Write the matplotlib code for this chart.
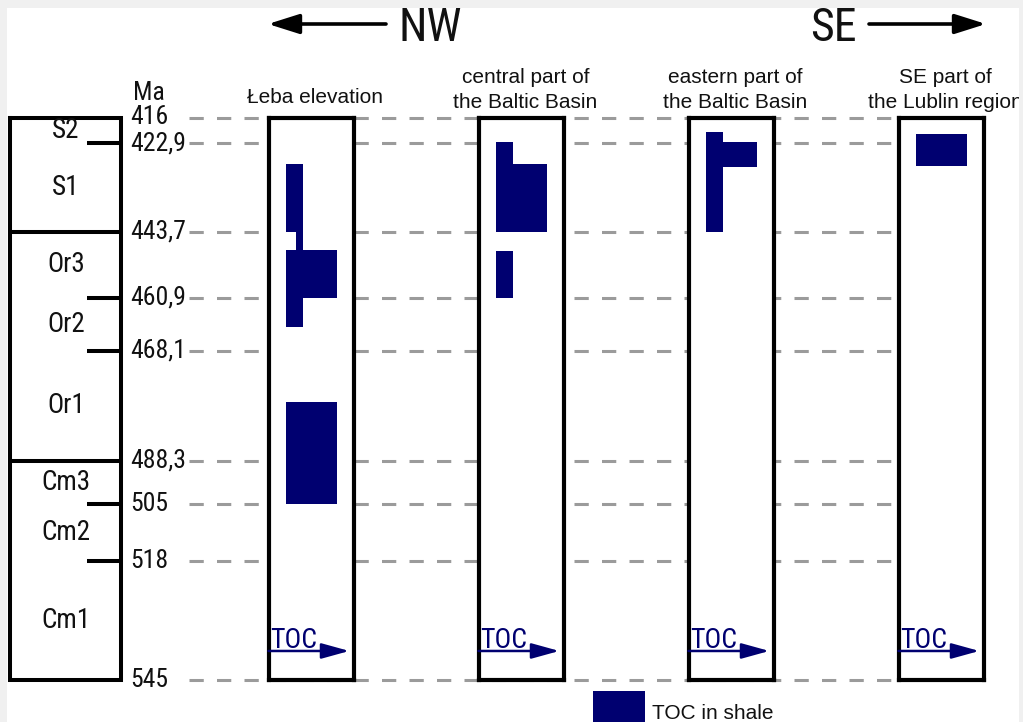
#!/usr/bin/env python3
"""TOC-rich shale intervals in Lower Palaeozoic sections, NW to SE."""

import numpy as np
import matplotlib
matplotlib.use("Agg")
import matplotlib.pyplot as plt
from matplotlib import font_manager
from matplotlib.patches import Rectangle

# chronostratigraphic boundaries (Ma) and stage names between them
BOUNDARY_AGES = [416, 422.9, 443.7, 460.9, 468.1, 488.3, 505, 518, 545]
BOUNDARY_LABELS = ["416", "422,9", "443,7", "460,9", "468,1", "488,3", "505", "518", "545"]
SYSTEM_BOUNDARIES = [443.7, 488.3]
STAGES = ["S2", "S1", "Or3", "Or2", "Or1", "Cm3", "Cm2", "Cm1"]

SECTIONS = [
    "Łeba elevation",
    "central part of\nthe Baltic Basin",
    "eastern part of\nthe Baltic Basin",
    "SE part of\nthe Lublin region",
]

# TOC-rich shale intervals: (top Ma, base Ma, TOC from, TOC to)
LEBA_TOC = [(427.8, 443.7, 1, 2), (443.7, 448.4, 1.6, 2), (448.4, 460.9, 1, 4),
            (460.9, 464.9, 1, 2), (477.6, 505, 1, 4)]
BALTIC_CENTRAL_TOC = [(422.6, 427.8, 1, 2), (427.8, 443.7, 1, 4), (448.7, 460.9, 1, 2)]
BALTIC_EAST_TOC = [(419.9, 422.6, 1, 2), (422.6, 428.5, 1, 4), (428.5, 443.7, 1, 2)]
LUBLIN_TOC = [(420.5, 428.3, 1, 4)]
SECTION_TOC = [LEBA_TOC, BALTIC_CENTRAL_TOC, BALTIC_EAST_TOC, LUBLIN_TOC]

W, H = 1023, 722
NAVY = "#000070"
INK = "#111111"
DASH = "#9b9b9b"

# condensed face for labels, if one is around
_faces = font_manager.fontManager.ttflist
_names = {f.name for f in _faces}
NARROW, STRETCH, NSCALE = "Liberation Sans", "normal", 0.86
for cand in ["Liberation Sans Narrow", "Roboto Condensed", "Arial Narrow",
             "Open Sans Condensed", "DejaVu Sans Condensed"]:
    if cand in _names:
        NARROW, NSCALE = cand, 1.0
        break
else:
    if any(f.name == "DejaVu Sans" and f.stretch == "condensed" for f in _faces):
        NARROW, STRETCH, NSCALE = "DejaVu Sans", "condensed", 0.92
REGULAR = "Liberation Sans"


def narrow(size):
    return dict(family=NARROW, fontstretch=STRETCH, fontsize=size * NSCALE)


# the time axis is not to scale: each boundary sits on its own row (pixels)
ROWS = np.array([117.5, 143, 232, 298, 350.5, 460.5, 504, 561, 680])
AGES = np.array(BOUNDARY_AGES, dtype=float)
S0 = (ROWS[1] - ROWS[0]) / (AGES[1] - AGES[0])
S1 = (ROWS[-1] - ROWS[-2]) / (AGES[-1] - AGES[-2])


def age_to_row(a):
    a = np.asarray(a, dtype=float)
    r = np.interp(a, AGES, ROWS)
    r = np.where(a < AGES[0], ROWS[0] + (a - AGES[0]) * S0, r)
    return np.where(a > AGES[-1], ROWS[-1] + (a - AGES[-1]) * S1, r)


def row_to_age(r):
    r = np.asarray(r, dtype=float)
    a = np.interp(r, ROWS, AGES)
    a = np.where(r < ROWS[0], AGES[0] + (r - ROWS[0]) / S0, a)
    return np.where(r > ROWS[-1], AGES[-1] + (r - ROWS[-1]) / S1, a)


def frect(x0, y0, x1, y1):
    """Figure-fraction rect from pixel corners (y measured from the top)."""
    return [x0 / W, 1 - y1 / H, (x1 - x0) / W, (y1 - y0) / H]


def age_axes(fig, rect):
    ax = fig.add_axes(rect)
    ax.set_yscale("function", functions=(age_to_row, row_to_age))
    ax.set_ylim(AGES[-1], AGES[0])
    return ax


fig = plt.figure(figsize=(W / 100, H / 100), dpi=100, facecolor="white")

# free-layout canvas in pixel units
canvas = fig.add_axes([0, 0, 1, 1])
canvas.set_xlim(0, W)
canvas.set_ylim(H, 0)
canvas.axis("off")

# time scale, guide lines and the stratigraphic column
ax = age_axes(fig, frect(0, ROWS[0], W, ROWS[-1]))
ax.set_xlim(0, W)
ax.axis("off")
ax.patch.set_visible(False)

ax.hlines(BOUNDARY_AGES, 189, 900, colors=DASH, lw=2.2,
          linestyles=[(0, (4.67, 4.33))], clip_on=False)

ax.plot([9.5, 120.5, 120.5, 9.5, 9.5],
        [AGES[0], AGES[0], AGES[-1], AGES[-1], AGES[0]],
        color="black", lw=2.9, solid_joinstyle="miter", clip_on=False)
ax.hlines(SYSTEM_BOUNDARIES, 9.5, 120.5, colors="black", lw=2.9, clip_on=False)
stage_ticks = [a for a in BOUNDARY_AGES[1:-1] if a not in SYSTEM_BOUNDARIES]
ax.hlines(stage_ticks, 87, 120.5, colors="black", lw=2.9, clip_on=False)

for i, name in enumerate(STAGES):
    mid = (BOUNDARY_AGES[i] + BOUNDARY_AGES[i + 1]) / 2
    ax.text(66, mid, name, ha="center", va="center", color=INK, **narrow(19.5))

for age, lab in zip(BOUNDARY_AGES, BOUNDARY_LABELS):
    ax.text(130, age, lab, ha="left", va="center", color=INK, clip_on=False,
            **narrow(18.5))

canvas.text(133, 93, "Ma", ha="left", va="center", color=INK, **narrow(18.5))

# one TOC panel per section
col_lefts = [268.5, 478.5, 688.5, 898.5]
col_width = 85.5
for left, title, intervals in zip(col_lefts, SECTIONS, SECTION_TOC):
    cax = age_axes(fig, frect(left, ROWS[0], left + col_width, ROWS[-1]))
    cax.set_xlim(0, 5)
    cax.set_facecolor("white")
    cax.tick_params(which="both", left=False, bottom=False,
                    labelleft=False, labelbottom=False)
    for sp in cax.spines.values():
        sp.set_linewidth(3)
        sp.set_color("black")

    tops = np.array([iv[0] for iv in intervals])
    bases = np.array([iv[1] for iv in intervals])
    lo = np.array([iv[2] for iv in intervals])
    hi = np.array([iv[3] for iv in intervals])
    cax.barh((tops + bases) / 2, hi - lo, height=bases - tops, left=lo,
             color=NAVY, edgecolor="none")

    cax.annotate("", xy=(0.945, 0.0516), xytext=(0.0, 0.0516),
                 xycoords="axes fraction", textcoords="axes fraction",
                 arrowprops=dict(arrowstyle="-|>,head_length=1.7,head_width=0.47",
                                 mutation_scale=10, lw=1.8, color=NAVY,
                                 shrinkA=0, shrinkB=0))
    cax.text(0.02, 0.057, "TOC", transform=cax.transAxes, ha="left",
             va="baseline", color=NAVY, **narrow(20))

    cx = left + col_width / 2 + 4
    lines = title.split("\n")
    if len(lines) == 1:
        canvas.text(cx, 103, lines[0], ha="center", va="baseline",
                    fontsize=15, family=REGULAR, color=INK)
    else:
        for ln, base in zip(lines, [83, 108]):
            canvas.text(cx, base, ln, ha="center", va="baseline",
                        fontsize=15, family=REGULAR, color=INK)

# direction of the transect
arrow_kw = dict(arrowstyle="-|>,head_length=1.9,head_width=0.6",
                mutation_scale=10, lw=2.6, color="black", shrinkA=0, shrinkB=0)
canvas.annotate("", xy=(268, 24), xytext=(386, 24), arrowprops=arrow_kw)
canvas.annotate("", xy=(986, 24), xytext=(869, 24), arrowprops=arrow_kw)
canvas.text(430, 41, "NW", ha="center", va="baseline", color=INK, **narrow(33))
canvas.text(833, 41, "SE", ha="center", va="baseline", color=INK, **narrow(33))

# legend
canvas.add_patch(Rectangle((593, 691), 52, 40, facecolor=NAVY, edgecolor="none"))
canvas.text(652, 719, "TOC in shale", ha="left", va="baseline", fontsize=15,
            family=REGULAR, color=INK)

# grey page margin
for x0, y0, x1, y1 in [(0, 0, 7, H), (0, 0, W, 8), (1019, 0, W, H)]:
    fig.patches.append(Rectangle((x0 / W, 1 - y1 / H), (x1 - x0) / W, (y1 - y0) / H,
                                 transform=fig.transFigure, facecolor="#f0f0f0",
                                 edgecolor="none", zorder=10))

fig.savefig("out.png", dpi=100)
